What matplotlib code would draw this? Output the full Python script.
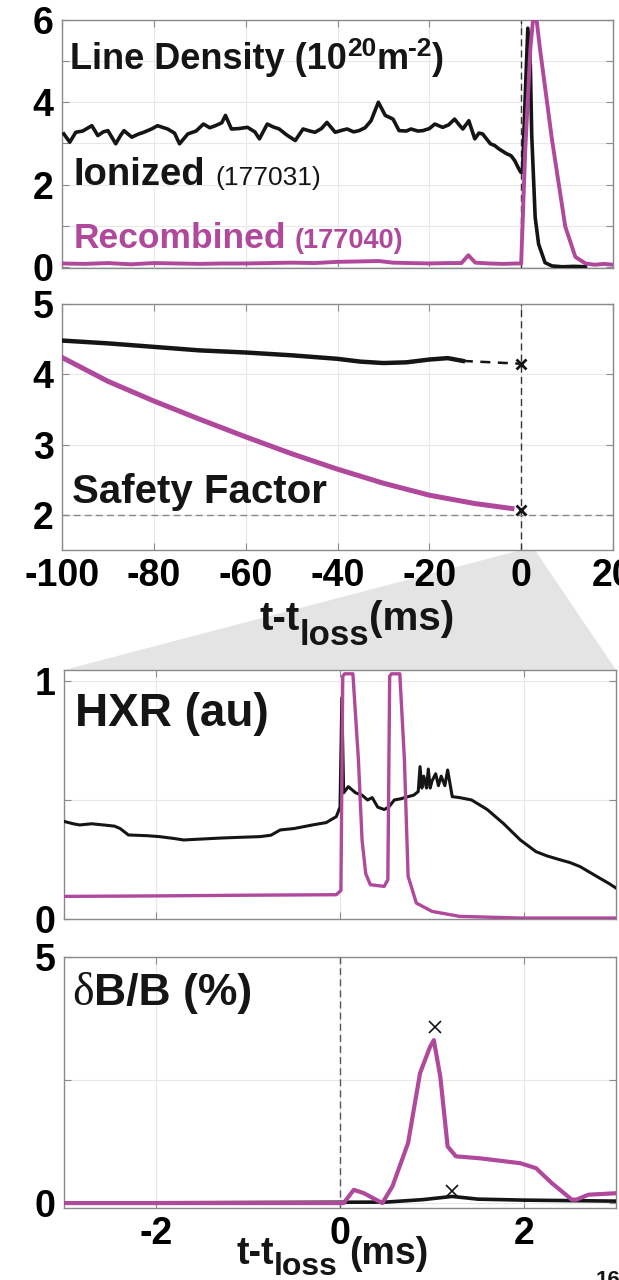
import matplotlib
matplotlib.use("Agg")
import matplotlib.pyplot as plt
from matplotlib.patches import Polygon

plt.rcParams['font.family'] = ['Liberation Sans', 'DejaVu Sans']
plt.rcParams['font.weight'] = 'bold'
plt.rcParams['axes.unicode_minus'] = False

BLACK = '#151515'
MAG = '#b0489c'

# ---- Panel 1: line density (1e20 m^-2) ----
dens_ion_t = [-99.6, -98.3, -97.0, -95.5, -93.5, -92.2, -91.0, -90.0, -88.3, -87.2, -86.5, -84.8, -83.5,
              -82.2, -80.5, -79.2, -77.0, -75.5, -74.4, -72.6, -70.8, -69.2, -67.8, -66.6, -65.2, -64.4,
              -63.1, -61.5, -59.6, -58.0, -57.0, -55.3, -54.0, -52.7, -51.0, -49.2, -47.5, -46.0, -44.9,
              -43.5, -42.3, -40.5, -39.0, -37.9, -36.5, -35.3, -34.0, -32.7, -31.1, -29.6, -27.9, -26.6,
              -25.0, -24.0, -22.5, -21.4, -20.0, -18.8, -17.1, -15.8, -14.5, -13.5, -12.7, -11.4, -10.1,
              -9.2, -8.4, -6.7, -5.8, -4.9, -3.2, -2.2, -1.4, -0.6, -0.1, 0.3, 0.87, 1.45, 2.0, 2.3, 3.05,
              3.8, 5.2, 6.7, 9.0, 11.5, 14.0]
dens_ion = [3.23, 3.03, 3.27, 3.30, 3.43, 3.19, 3.28, 3.31, 2.99, 3.20, 3.31, 3.15, 3.22,
            3.27, 3.35, 3.43, 3.35, 3.25, 2.99, 3.23, 3.30, 3.47, 3.38, 3.43, 3.50, 3.68,
            3.35, 3.36, 3.39, 3.28, 3.11, 3.47, 3.40, 3.35, 3.20, 3.07, 3.35, 3.30, 3.27,
            3.36, 3.51, 3.27, 3.32, 3.35, 3.28, 3.31, 3.38, 3.55, 4.00, 3.68, 3.59, 3.31,
            3.30, 3.35, 3.30, 3.31, 3.36, 3.47, 3.39, 3.45, 3.59, 3.45, 3.35, 3.55, 3.11,
            3.25, 3.23, 2.99, 2.95, 2.87, 2.75, 2.70, 2.58, 2.40, 2.30, 2.30, 4.10, 5.80, 4.90, 3.20, 1.20,
            0.55, 0.10, 0.02, 0.0, 0.01, 0.0]

dens_rec_t = [-100, -95, -90, -85, -80, -75, -70, -65, -60, -55, -50, -45, -40, -35, -31, -28, -24,
              -20, -16, -13, -11.5, -10, -7, -4, -1, 0.0, 0.87, 2.0, 2.7, 3.2, 4.1, 6.7, 9.6, 11.8, 14.0,
              16, 18, 20]
dens_rec = [0.08, 0.07, 0.09, 0.06, 0.09, 0.08, 0.07, 0.08, 0.08, 0.09, 0.10, 0.09, 0.12, 0.13, 0.14,
            0.10, 0.09, 0.08, 0.09, 0.09, 0.28, 0.10, 0.08, 0.07, 0.08, 0.08, 2.8, 5.3, 6.15, 6.15, 5.3,
            3.1, 0.98, 0.24, 0.08, 0.05, 0.07, 0.05]

# ---- Panel 2: safety factor ----
q_ion_t = [-100, -90, -80, -70, -60, -50, -40, -35, -30, -25, -20, -16, -12.7]
q_ion = [4.48, 4.44, 4.39, 4.34, 4.31, 4.27, 4.22, 4.18, 4.16, 4.17, 4.21, 4.23, 4.19]
q_ion_final = 4.15
q_rec_t = [-100, -90, -80, -70, -60, -50, -40, -30, -20, -10, -2]
q_rec = [4.24, 3.90, 3.62, 3.36, 3.11, 2.87, 2.65, 2.45, 2.28, 2.16, 2.09]
q_rec_final = 2.07

# ---- Panel 3: HXR (au) ----
hxr_ion_t = [-3.0, -2.9, -2.83, -2.7, -2.57, -2.45, -2.39, -2.3, -2.1, -1.96, -1.8, -1.7, -1.5, -1.3,
             -1.1, -0.87, -0.75, -0.65, -0.5, -0.3, -0.15, -0.04, 0.0, 0.02, 0.04, 0.09, 0.17, 0.24,
             0.3, 0.35, 0.41, 0.48, 0.53, 0.59, 0.66, 0.74, 0.8, 0.85, 0.87, 0.89, 0.91, 0.94, 0.96,
             0.98, 1.0, 1.04, 1.07, 1.1, 1.14, 1.17, 1.22, 1.3, 1.43, 1.6, 1.78, 1.96, 2.13, 2.25,
             2.39, 2.5, 2.61, 2.72, 2.83, 2.92, 3.0]
hxr_ion = [0.41, 0.40, 0.395, 0.40, 0.395, 0.39, 0.38, 0.353, 0.35, 0.346, 0.338, 0.332, 0.336, 0.34,
           0.343, 0.346, 0.352, 0.374, 0.38, 0.395, 0.405, 0.43, 0.47, 0.93, 0.53, 0.556, 0.53, 0.52,
           0.50, 0.51, 0.47, 0.46, 0.47, 0.50, 0.505, 0.514, 0.52, 0.535, 0.64, 0.55, 0.60, 0.55, 0.63,
           0.55, 0.58, 0.61, 0.56, 0.60, 0.56, 0.626, 0.514, 0.51, 0.50, 0.46, 0.40, 0.332, 0.283, 0.265,
           0.249, 0.237, 0.22, 0.195, 0.17, 0.15, 0.13]
hxr_rec_t = [-3.0, -2.0, -1.0, -0.04, 0.01, 0.03, 0.05, 0.14, 0.2, 0.24, 0.28, 0.33, 0.48, 0.52, 0.54,
             0.56, 0.65, 0.7, 0.74, 0.83, 1.0, 1.3, 1.96, 3.0]
hxr_rec = [0.095, 0.097, 0.10, 0.102, 0.12, 1.02, 1.03, 1.03, 0.67, 0.33, 0.19, 0.144, 0.137, 0.165,
           1.02, 1.03, 1.03, 0.67, 0.18, 0.067, 0.032, 0.011, 0.004, 0.004]

# ---- Panel 4: dB/B (%) ----
db_rec_t = [-3.0, 0.04, 0.15, 0.26, 0.46, 0.57, 0.74, 0.87, 0.98, 1.02, 1.09, 1.17, 1.26, 1.52, 1.96,
            2.13, 2.3, 2.52, 2.57, 2.7, 3.0]
db_rec = [0.0, 0.0, 0.27, 0.2, 0.0, 0.34, 1.22, 2.64, 3.18, 3.31, 2.57, 1.15, 0.95, 0.91, 0.81, 0.71,
          0.41, 0.07, 0.07, 0.17, 0.2]
db_ion_t = [-3.0, 0.5, 0.9, 1.22, 1.5, 2.0, 3.0]
db_ion = [0.0, 0.02, 0.07, 0.135, 0.08, 0.06, 0.04]
db_rec_peak = (1.03, 3.58)
db_ion_peak = (1.22, 0.24)

W, H = 619, 1280
fig = plt.figure(figsize=(W / 100, H / 100), dpi=100)
renderer = fig.canvas.get_renderer()


def box(x0, y_top, x1, y_bot):
    return [x0 / W, 1 - y_bot / H, (x1 - x0) / W, (y_bot - y_top) / H]


def compose(x_px, y_px, parts, center=False):
    """parts: (string, size, weight, family, color, dy_px, gap_px_after)"""
    items = []
    for s, size, weight, family, color, dy, gap in parts:
        t = fig.text(0, 0, s, fontsize=size, fontweight=weight, family=family, color=color,
                     ha='left', va='baseline')
        w = t.get_window_extent(renderer).width
        items.append((t, dy, w, gap))
    total = sum(w + g for _, _, w, g in items) - items[-1][3]
    x = x_px - total / 2 if center else x_px
    for t, dy, w, gap in items:
        t.set_position((x / W, 1 - (y_px + dy) / H))
        x += w + gap


ax1 = fig.add_axes(box(62, 20, 613, 268))
ax2 = fig.add_axes(box(62, 304, 613, 550))
ax3 = fig.add_axes(box(64, 670, 616, 919))
ax4 = fig.add_axes(box(64, 957, 616, 1208))

TICK_FS = 27
for ax in (ax1, ax2, ax3, ax4):
    ax.grid(True, color='#e8e8e8', lw=0.8)
    ax.set_axisbelow(True)
    for s in ax.spines.values():
        s.set_color('#8a8a8a')
        s.set_linewidth(1.0)
    ax.tick_params(direction='in', length=5, width=0.8, color='#8a8a8a', top=True, right=True,
                   labelsize=TICK_FS, pad=6)

SANS = ['Liberation Sans', 'DejaVu Sans']

# Panel 1
ax1.plot(dens_ion_t, dens_ion, color=BLACK, lw=2.6, zorder=3)
ax1.plot(dens_rec_t, dens_rec, color=MAG, lw=2.8, zorder=4)
ax1.axvline(0, color='#333333', lw=1.0, ls=(0, (5, 3)), zorder=2)
ax1.set_xlim(-100, 20)
ax1.set_ylim(-0.03, 6)
ax1.set_xticks(range(-100, 21, 20))
ax1.set_xticklabels([])
ax1.set_yticks(range(0, 7))
ax1.set_yticklabels(['0', '', '2', '', '4', '', '6'])
compose(70, 69, [('Line Density (10', 26, 'bold', SANS, BLACK, 0, 0),
                 ('20', 19, 'bold', SANS, BLACK, -13, 0),
                 ('m', 26, 'bold', SANS, BLACK, 0, 0),
                 ('-2', 19, 'bold', SANS, BLACK, -13, 0),
                 (')', 26, 'bold', SANS, BLACK, 0, 0)])
compose(74, 185, [('Ionized', 27.5, 'bold', SANS, BLACK, 0, 10),
                  ('(177031)', 19, 'normal', SANS, BLACK, 0, 0)])
compose(74, 248, [('Recombined', 25.5, 'bold', SANS, MAG, 0, 8),
                  ('(177040)', 19.5, 'bold', SANS, MAG, 0, 0)])

# Panel 2
ax2.plot(q_ion_t, q_ion, color=BLACK, lw=3.2, zorder=3)
ax2.plot([q_ion_t[-1], 0], [q_ion[-1], q_ion_final], color=BLACK, lw=1.8, ls=(0, (4, 3)), zorder=3)
ax2.plot([0], [q_ion_final], marker='x', color=BLACK, ms=7, mew=2, zorder=4)
ax2.plot(q_rec_t, q_rec, color=MAG, lw=3.6, zorder=3)
ax2.plot([0], [q_rec_final], marker='x', color=BLACK, ms=7, mew=2, zorder=4)
ax2.axvline(0, color='#333333', lw=1.0, ls=(0, (5, 3)), zorder=2)
ax2.axhline(2, color='#888888', lw=1.0, ls=(0, (5, 3)), zorder=2)
ax2.set_xlim(-100, 20)
ax2.set_ylim(1.5, 5)
ax2.set_xticks(range(-100, 21, 20))
ax2.set_yticks([2, 3, 4, 5])
compose(72, 503, [('Safety Factor', 29, 'bold', SANS, BLACK, 0, 0)])
compose(357, 630, [('t-t', 29, 'bold', SANS, BLACK, 0, 0),
                   ('loss', 25, 'bold', SANS, BLACK, 15, 0),
                   ('(ms)', 29, 'bold', SANS, BLACK, 0, 0)], center=True)

# Panel 3
ax3.plot(hxr_ion_t, hxr_ion, color=BLACK, lw=2.2, zorder=3)
ax3.plot(hxr_rec_t, hxr_rec, color=MAG, lw=2.4, zorder=4)
ax3.set_xlim(-3, 3)
ax3.set_ylim(0, 1.046)
ax3.set_xticks([-2, 0, 2])
ax3.set_xticklabels([])
ax3.set_yticks([0, 0.5, 1])
ax3.set_yticklabels(['0', '', '1'])
compose(75, 726, [('HXR (au)', 33, 'bold', SANS, BLACK, 0, 0)])

# Panel 4
ax4.plot(db_ion_t, db_ion, color=BLACK, lw=2.6, zorder=3)
ax4.plot(db_rec_t, db_rec, color=MAG, lw=3.0, zorder=4)
ax4.plot([db_rec_peak[0]], [db_rec_peak[1]], marker='x', color=BLACK, ms=9, mew=1.2, zorder=5)
ax4.plot([db_ion_peak[0]], [db_ion_peak[1]], marker='x', color=BLACK, ms=9, mew=1.2, zorder=5)
ax4.axvline(0, color='#555555', lw=1.0, ls=(0, (5, 3)), zorder=2)
ax4.set_xlim(-3, 3)
ax4.set_ylim(-0.1, 5)
ax4.set_xticks([-2, 0, 2])
ax4.set_yticks([0, 2.5, 5])
ax4.set_yticklabels(['0', '', '5'])
compose(72, 1005, [('\u03b4', 33, 'normal', ['Liberation Serif', 'DejaVu Serif'], BLACK, 0, 0),
                   ('B/B (%)', 32, 'bold', SANS, BLACK, 0, 0)])
compose(236, 1264, [('t-t', 27, 'bold', SANS, BLACK, 0, 0),
                    ('loss', 23, 'bold', SANS, BLACK, 11, 12),
                    ('(ms)', 27, 'bold', SANS, BLACK, 0, 0)])

# Zoom wedge between panel 2 and panel 3
inv = fig.transFigure.inverted()
p1 = inv.transform(ax2.transData.transform((0, 1.5)))
p2 = inv.transform(ax2.transData.transform((3, 1.5)))
p3 = inv.transform(ax3.transAxes.transform((1, 1)))
p4 = inv.transform(ax3.transAxes.transform((0, 1)))
fig.patches.append(Polygon([p1, p2, p3, p4], closed=True, transform=fig.transFigure,
                           facecolor='#e4e4e4', edgecolor='none', zorder=-1))

fig.text(0.963, 0.0, '16', fontsize=16, color=BLACK, ha='left', va='center')

fig.savefig('out.png', dpi=100)
